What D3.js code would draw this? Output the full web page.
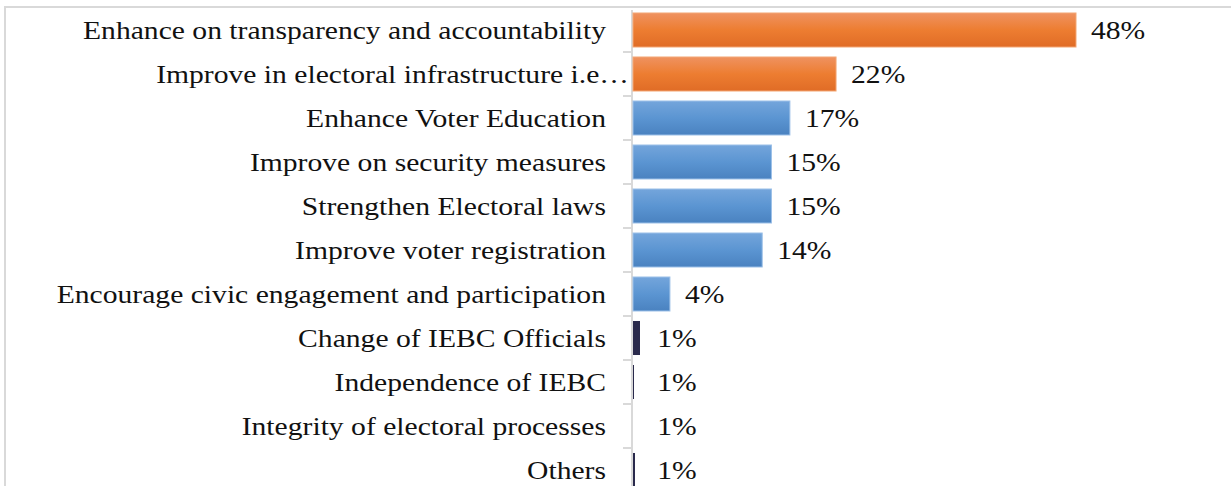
<!DOCTYPE html>
<html>
<head>
<meta charset="utf-8">
<script src="https://cdn.jsdelivr.net/npm/d3@7"></script>
<style>
  html, body { margin: 0; padding: 0; background: #ffffff; }
  svg { display: block; }
</style>
</head>
<body>
<svg id="chart" width="1231" height="486"></svg>
<script>
// Survey responses: suggested improvements for the electoral process
const categories = [
  "Enhance on transparency and accountability",
  "Improve in electoral infrastructure i.e\u2026",
  "Enhance Voter Education",
  "Improve on security measures",
  "Strengthen Electoral laws",
  "Improve voter registration",
  "Encourage civic engagement and participation",
  "Change of IEBC Officials",
  "Independence of IEBC",
  "Integrity of electoral processes",
  "Others"
];
const values = [48, 22, 17, 15, 15, 14, 4, 1, 1, 1, 1];
// colour group for each bar
const groups = ["top", "top", "main", "main", "main", "main", "main", "minor1", "minor2", "minor3", "minor4"];

const W = 1231, H = 486;
const svg = d3.select("#chart");
const FONT = "'Liberation Serif', 'Times New Roman', serif";
const FS = 26;

const x = d3.scaleLinear().domain([0, 48]).range([633, 1076]);
const y = d3.scaleBand().domain(categories).range([8, 492])
  .paddingInner(0.227).paddingOuter(0.1135);

const defs = svg.append("defs");
function vGrad(id, stops) {
  const g = defs.append("linearGradient").attr("id", id)
    .attr("x1", 0).attr("y1", 0).attr("x2", 0).attr("y2", 1);
  stops.forEach(([o, c]) => g.append("stop").attr("offset", o).attr("stop-color", c));
}
function hGrad(id, frac, color) {
  const g = defs.append("linearGradient").attr("id", id)
    .attr("x1", 0).attr("y1", 0).attr("x2", 1).attr("y2", 0);
  g.append("stop").attr("offset", 0).attr("stop-color", color);
  g.append("stop").attr("offset", frac).attr("stop-color", color);
  g.append("stop").attr("offset", frac).attr("stop-color", "#ffffff").attr("stop-opacity", 0);
  g.append("stop").attr("offset", 1).attr("stop-color", "#ffffff").attr("stop-opacity", 0);
}
vGrad("gOrange", [[0, "#ef9260"], [0.5, "#ed7d31"], [1, "#e06c26"]]);
vGrad("gBlue", [[0, "#74a5db"], [0.5, "#5b95d2"], [1, "#4a82c0"]]);
const NAVY = "#2a2a4c";
hGrad("gMinor1", 0.8, NAVY);
hGrad("gMinor2", 0.14, NAVY);
hGrad("gMinor3", 0.0, NAVY);
hGrad("gMinor4", 0.25, NAVY);

const fillOf = { top: "url(#gOrange)", main: "url(#gBlue)",
  minor1: "url(#gMinor1)", minor2: "url(#gMinor2)", minor3: "url(#gMinor3)", minor4: "url(#gMinor4)" };
const strokeOf = { top: "#f3a775", main: "#9cc0e8" };

// outer frame
svg.append("path")
  .attr("d", `M5,${H} V7 H${W}`)
  .attr("fill", "none").attr("stroke", "#d9d9d9").attr("stroke-width", 2);

// category axis
const axis = d3.axisLeft(y).tickSize(0).tickFormat("");
const gAxis = svg.append("g").attr("transform", "translate(632,0)").call(axis);
gAxis.select(".domain").attr("stroke", "#d9d9d9").attr("stroke-width", 2)
  .attr("d", `M0,10 V${H}`);
// tick marks between categories
const bounds = d3.range(1, categories.length).map(i => y(categories[i]) - y.step() * y.paddingInner() / 2);
gAxis.selectAll("line.sep").data(bounds).join("line").attr("class", "sep")
  .attr("x1", -9).attr("x2", 0).attr("y1", d => d).attr("y2", d => d)
  .attr("stroke", "#d9d9d9").attr("stroke-width", 2);

const data = categories.map((c, i) => ({ c, v: values[i], g: groups[i] }));

// bars
svg.append("g").selectAll("rect").data(data).join("rect")
  .attr("x", x(0))
  .attr("y", d => y(d.c))
  .attr("width", d => x(d.v) - x(0))
  .attr("height", y.bandwidth())
  .attr("fill", d => fillOf[d.g])
  .attr("stroke", d => strokeOf[d.g] || "none")
  .attr("stroke-width", 1);

// category labels
const labels = svg.append("g").attr("font-family", FONT).attr("font-size", FS).attr("fill", "#111");
const lab = labels.selectAll("text").data(data).join("text")
  .attr("x", (d, i) => i === 1 ? 629 : 606)
  .attr("y", d => y(d.c) + y.bandwidth() / 2)
  .attr("dy", "0.34em")
  .attr("text-anchor", "end")
  .text(d => d.c);
// widen the serif face to the wider book-style proportions
const stretch = 523 / lab.nodes()[0].getComputedTextLength();
lab.each(function () {
  const w = this.getComputedTextLength();
  d3.select(this).attr("textLength", w * stretch).attr("lengthAdjust", "spacingAndGlyphs");
});

// value labels
const fmt = d => d + "%";
const vl = svg.append("g").attr("font-family", FONT).attr("font-size", FS).attr("fill", "#111")
  .selectAll("text").data(data).join("text")
  .attr("x", d => x(d.v) + 15)
  .attr("y", d => y(d.c) + y.bandwidth() / 2)
  .attr("dy", "0.34em")
  .text(d => fmt(d.v));
vl.each(function () {
  const w = this.getComputedTextLength();
  d3.select(this).attr("textLength", w * stretch).attr("lengthAdjust", "spacingAndGlyphs");
});
</script>
</body>
</html>
